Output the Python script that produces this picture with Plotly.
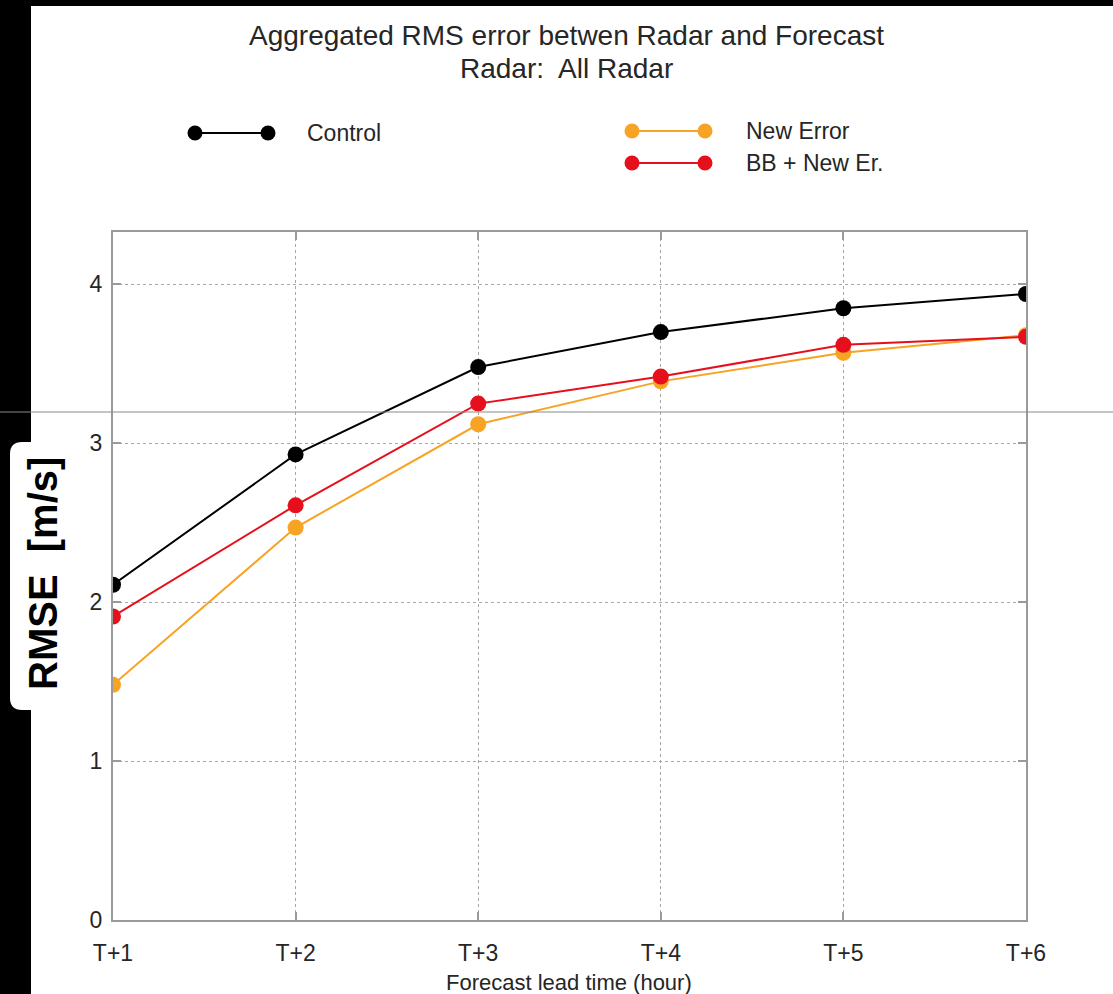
import plotly.graph_objects as go

# ---- data ----
lead_times = ["T+1", "T+2", "T+3", "T+4", "T+5", "T+6"]
control = [2.11, 2.93, 3.48, 3.70, 3.85, 3.94]
new_error = [1.48, 2.47, 3.12, 3.39, 3.57, 3.68]
bb_new_er = [1.91, 2.61, 3.25, 3.42, 3.62, 3.67]
series_names = ["Control", "New Error", "BB + New Er."]
series_colors = ["#000000", "#F7A323", "#E5101B"]
y_ticks = [0, 1, 2, 3, 4]

W, H = 1113, 994
L, R, T, B = 113, 87, 232, 74
PW, PH = W - L - R, H - T - B


def px(x):
    return (x - L) / PW


def py(y):
    return (H - B - y) / PH


FONT = "Liberation Sans, Arial, Helvetica, sans-serif"
TXT = "#262626"

fig = go.Figure()
xs = list(range(1, len(lead_times) + 1))
for name, vals, col in zip(series_names, [control, new_error, bb_new_er], series_colors):
    fig.add_trace(go.Scatter(
        x=xs, y=vals, name=name, mode="lines+markers",
        line=dict(color=col, width=2),
        marker=dict(color=col, size=16),
        cliponaxis=True, showlegend=False,
    ))

shapes = []
annotations = []

# background decorations
shapes.append(dict(type="rect", xref="paper", yref="paper", x0=px(0), x1=px(31), y0=py(H), y1=py(0),
                   fillcolor="black", line=dict(width=0), layer="below"))
shapes.append(dict(type="rect", xref="paper", yref="paper", x0=px(0), x1=px(W), y0=py(6), y1=py(0),
                   fillcolor="black", line=dict(width=0), layer="above"))
# rounded white label box
bx0, bx1, by0, by1, r = 10, 40, 442, 710, 12
rx, ry = r / PW, r / PH
X0, X1, Y0, Y1 = px(bx0), px(bx1), py(by1), py(by0)
path = (f"M {X0+rx} {Y1} L {X1} {Y1} L {X1} {Y0} L {X0+rx} {Y0} "
        f"Q {X0} {Y0} {X0} {Y0+ry} L {X0} {Y1-ry} Q {X0} {Y1} {X0+rx} {Y1} Z")
shapes.append(dict(type="path", xref="paper", yref="paper", path=path,
                   fillcolor="white", line=dict(width=0), layer="below"))
# thin horizontal gray line
shapes.append(dict(type="line", xref="paper", yref="paper", x0=px(0), x1=px(W), y0=py(412), y1=py(412),
                   line=dict(color="#8a8a8a", width=1), layer="above"))

# custom legend
legend_pos = [(195, 268, 133, 305), (632, 705, 131, 744), (632, 705, 163, 744)]
for (xa, xb, yy, xt), name, col in zip(legend_pos, series_names, series_colors):
    shapes.append(dict(type="line", xref="paper", yref="paper", x0=px(xa), x1=px(xb), y0=py(yy), y1=py(yy),
                       line=dict(color=col, width=2)))
    for xc in (xa, xb):
        shapes.append(dict(type="circle", xref="paper", yref="paper", xsizemode="pixel", ysizemode="pixel",
                           xanchor=px(xc), yanchor=py(yy), x0=-7.5, x1=7.5, y0=-7.5, y1=7.5,
                           fillcolor=col, line=dict(width=0)))
    annotations.append(dict(text=name, xref="paper", yref="paper", x=px(xt), y=py(yy),
                            xanchor="left", yanchor="middle", showarrow=False,
                            font=dict(family=FONT, size=23, color=TXT)))

# title
annotations.append(dict(text="Aggregated RMS error betwen Radar and Forecast", xref="paper", yref="paper",
                        x=px(566), y=py(35), xanchor="center", yanchor="middle", showarrow=False,
                        font=dict(family=FONT, size=28, color=TXT)))
annotations.append(dict(text="Radar:  All Radar", xref="paper", yref="paper",
                        x=px(566), y=py(68), xanchor="center", yanchor="middle", showarrow=False,
                        font=dict(family=FONT, size=28, color=TXT)))
# axis titles
annotations.append(dict(text="Forecast lead time (hour)", xref="paper", yref="paper",
                        x=px(569), y=py(982), xanchor="center", yanchor="middle", showarrow=False,
                        font=dict(family=FONT, size=22, color=TXT)))
annotations.append(dict(text="<b>RMSE  [m/s]</b>", xref="paper", yref="paper", textangle=-90,
                        x=px(43), y=py(574), xanchor="center", yanchor="middle", showarrow=False,
                        font=dict(family=FONT, size=40, color="black")))

axis_common = dict(showline=True, linecolor="#9a9a9a", linewidth=2, mirror="ticks",
                   ticks="inside", ticklen=8, tickcolor="#9a9a9a", tickwidth=1.5,
                   showgrid=True, gridcolor="#a8a8a8", griddash="dot", gridwidth=1,
                   zeroline=False, tickfont=dict(family=FONT, size=23, color=TXT))

fig.update_layout(
    width=W, height=H, margin=dict(l=L, r=R, t=T, b=B, pad=0),
    paper_bgcolor="white", plot_bgcolor="white",
    xaxis=dict(range=[1, 6], tickvals=xs, ticktext=lead_times, ticklabelstandoff=11, **axis_common),
    yaxis=dict(range=[0, 4.33], tickvals=y_ticks, ticklabelstandoff=4, **axis_common),
    shapes=shapes, annotations=annotations, showlegend=False,
)

fig.write_html("out.html", config={"displayModeBar": False},
               post_script="document.body.style.margin='0';document.body.style.overflow='hidden';")
